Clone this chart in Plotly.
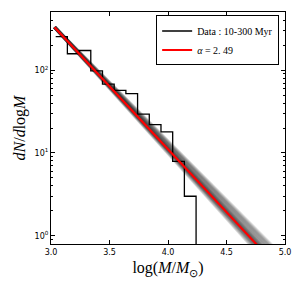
import numpy as np
import plotly.graph_objects as go

# Histogram (bin edges in log M, counts dN/dlogM)
bin_edges = [3.04, 3.14, 3.24, 3.34, 3.44, 3.54, 3.64, 3.74, 3.84, 3.94, 4.04, 4.14, 4.24]
counts = [255, 158, 173, 98, 68, 57, 52, 29.5, 22, 18, 7.9, 3.0]

# Power-law fit
alpha_label = "2. 49"
fit_x_range = [3.03, 4.95]
fit_logy_at_start = 2.52
fit_slope = -1.52
# Posterior samples of the slope (grey band)
sample_slopes = [-1.42, -1.43, -1.44, -1.45, -1.46, -1.47, -1.48, -1.49, -1.495, -1.50,
                 -1.505, -1.51, -1.515, -1.52, -1.525, -1.53, -1.535, -1.54, -1.55,
                 -1.56, -1.57]

xt = np.linspace(fit_x_range[0], fit_x_range[1], 60)

fig = go.Figure()

for s in sample_slopes:
    fig.add_trace(go.Scatter(
        x=xt, y=10 ** (fit_logy_at_start + s * (xt - fit_x_range[0])),
        mode="lines", line=dict(color="rgba(50,50,50,0.18)", width=3.5),
        showlegend=False, hoverinfo="skip"))

hx = list(bin_edges)
hy = list(counts) + [0.01]
fig.add_trace(go.Scatter(
    x=hx, y=hy, mode="lines", line=dict(color="black", width=1.3, shape="hv"),
    name="Data : 10-300 Myr"))

fig.add_trace(go.Scatter(
    x=xt, y=10 ** (fit_logy_at_start + fit_slope * (xt - fit_x_range[0])),
    mode="lines", line=dict(color="#ff0000", width=2.2),
    name="<i>α</i> = " + alpha_label))

minor_y = [m * 10 ** e for e in range(-1, 3) for m in range(2, 10)]

fig.update_layout(
    width=303, height=288,
    margin=dict(l=51, r=18, t=12, b=44),
    plot_bgcolor="white", paper_bgcolor="white",
    font=dict(family="DejaVu Sans", size=8, color="black"),
    legend=dict(x=0.975, y=0.985, xanchor="right", yanchor="top",
                bordercolor="black", borderwidth=1, bgcolor="white",
                font=dict(family="Liberation Serif", size=10),
                itemwidth=30, tracegroupgap=0),
    xaxis=dict(range=[3.0, 5.0], tickvals=[3.0, 3.5, 4.0, 4.5, 5.0],
               ticktext=["3.0", "3.5", "4.0", "4.5", "5.0"],
               ticklabeloverflow="allow",
               ticks="inside", ticklen=4, tickcolor="black",
               showline=True, linecolor="black", linewidth=1.2, mirror="ticks",
               showgrid=False, zeroline=False,
               title=dict(text="log(<i>M</i>/<i>M</i><sub>⊙</sub>)",
                          font=dict(family="Liberation Serif", size=16), standoff=6)),
    yaxis=dict(type="log", range=[-0.1, 2.703], tickvals=[1, 10, 100],
               ticktext=["10<sup>0</sup>", "10<sup>1</sup>", "10<sup>2</sup>"],
               ticks="inside", ticklen=4, tickcolor="black",
               minor=dict(tickvals=minor_y, ticks="inside", ticklen=2, tickcolor="black"),
               showline=True, linecolor="black", linewidth=1.2, mirror="ticks",
               showgrid=False, zeroline=False,
               title=dict(text="<i>dN</i>/<i>d</i>log<i>M</i>",
                          font=dict(family="Liberation Serif", size=16), standoff=4)),
)

fig.write_html("out.html", config={"displayModeBar": False},
               post_script="document.body.style.margin='0';document.body.style.overflow='hidden';")
